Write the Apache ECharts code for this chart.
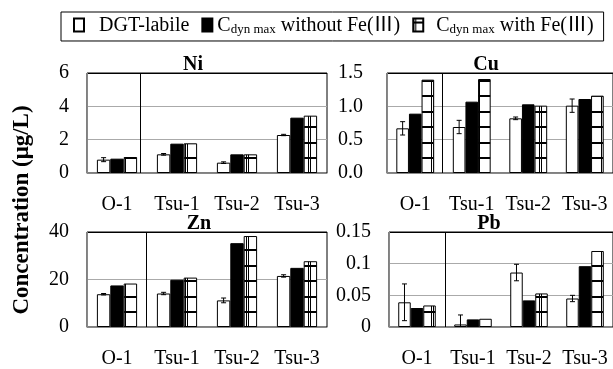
<!DOCTYPE html>
<html>
<head>
<meta charset="utf-8">
<script src="https://cdn.jsdelivr.net/npm/echarts@6/dist/echarts.min.js"></script>
<style>
  html, body { margin: 0; padding: 0; background: #fff; }
  #chart { width: 613px; height: 369px; }
</style>
</head>
<body>
<div id="chart"></div>
<script>
// sampling sites (x categories)
const sites = ['O-1', 'Tsu-1', 'Tsu-2', 'Tsu-3'];

// Ni
const niDgt = [0.80, 1.12, 0.62, 2.28];
const niDgtErr = [0.12, 0.05, 0.05, 0.04];
const niWithout = [0.86, 1.76, 1.12, 3.32];
const niWith = [0.96, 1.78, 1.12, 3.44];
// Cu
const cuDgt = [0.67, 0.69, 0.82, 1.01];
const cuDgtErr = [0.10, 0.10, 0.02, 0.10];
const cuWithout = [0.89, 1.07, 1.03, 1.11];
const cuWith = [1.40, 1.41, 1.01, 1.16];
// Zn
const znDgt = [13.8, 14.1, 11.2, 21.5];
const znDgtErr = [0.3, 0.5, 1.0, 0.5];
const znWithout = [17.5, 19.9, 35.3, 24.9];
const znWith = [18.3, 20.8, 38.3, 27.7];
// Pb
const pbDgt = [0.039, 0.004, 0.086, 0.045];
const pbDgtErr = [0.029, 0.015, 0.013, 0.005];
const pbWithout = [0.030, 0.012, 0.042, 0.096];
const pbWith = [0.034, 0.013, 0.053, 0.120];

// y ticks per panel
const niTicks = [0, 2, 4, 6];
const cuTicks = [0, 0.5, 1.0, 1.5];
const znTicks = [0, 20, 40];
const pbTicks = [0, 0.05, 0.1, 0.15];

const FONT = '"Liberation Serif", "Times New Roman", "Noto Sans CJK SC", serif';
const NAME_DGT = 'DGT-labile';
const NAME_WO = 'Cdyn max without Fe(Ⅲ)';
const NAME_W = 'Cdyn max with Fe(Ⅲ)';

// grid-like hatch used for "with Fe(III)"
function makeHatch() {
  const c = document.createElement('canvas');
  c.width = 77; c.height = 77;
  const g = c.getContext('2d');
  g.fillStyle = '#fff';
  g.fillRect(0, 0, 77, 77);
  g.fillStyle = '#000';
  [0, 15, 31, 46, 62].forEach(x => { g.fillRect(x, 0, 1, 77); g.fillRect(x + 2, 0, 1, 77); });
  [4, 19, 35, 50, 66].forEach(y => g.fillRect(0, y - 1, 77, 2));
  return c;
}
const hatch = { image: makeHatch(), repeat: 'repeat' };

const panels = [
  { name: 'Ni', dgt: niDgt, err: niDgtErr, wo: niWithout, w: niWith, ticks: niTicks,
    grid: { left: 87, top: 73, width: 240, height: 100 }, labelMargin: 18, fmt: v => String(v),
    titleX: 193, titleTop: 55, divider: 0.383 },
  { name: 'Cu', dgt: cuDgt, err: cuDgtErr, wo: cuWithout, w: cuWith, ticks: cuTicks,
    grid: { left: 387, top: 73, width: 228, height: 100 }, labelMargin: 24, fmt: v => v.toFixed(1),
    titleX: 486, titleTop: 55, divider: 0.47 },
  { name: 'Zn', dgt: znDgt, err: znDgtErr, wo: znWithout, w: znWith, ticks: znTicks,
    grid: { left: 87, top: 232, width: 240, height: 99 }, labelMargin: 18, fmt: v => String(v),
    titleX: 199, titleTop: 214, divider: 0.48 },
  { name: 'Pb', dgt: pbDgt, err: pbDgtErr, wo: pbWithout, w: pbWith, ticks: pbTicks,
    grid: { left: 389, top: 232, width: 228, height: 99 }, labelMargin: 18, fmt: v => String(+v.toFixed(2)),
    titleX: 489, titleTop: 214, divider: 0.5 }
];

const chart = echarts.init(document.getElementById('chart'), null, { renderer: 'canvas' });

const series = [];
panels.forEach((p, i) => {
  const common = { type: 'bar', xAxisIndex: i, yAxisIndex: i, barGap: '0%', barCategoryGap: '33%', animation: false };
  series.push(Object.assign({}, common, {
    name: NAME_DGT, data: p.dgt,
    itemStyle: { color: '#fff', borderColor: '#000', borderWidth: 1 }
  }));
  series.push(Object.assign({}, common, {
    name: NAME_WO, data: p.wo,
    itemStyle: { color: '#000', borderColor: '#000', borderWidth: 1 }
  }));
  series.push(Object.assign({}, common, {
    name: NAME_W, data: p.w,
    itemStyle: { color: hatch, borderColor: '#000', borderWidth: 1 }
  }));
  // error bars on the DGT-labile bars
  series.push({
    type: 'custom', xAxisIndex: i, yAxisIndex: i, silent: true, clip: true, animation: false, z: 5,
    data: p.dgt.map((v, k) => [k, v - p.err[k], v + p.err[k]]),
    renderItem(params, api) {
      const band = api.size([1, 0])[0];
      const groupW = band * 0.67;
      const barW = groupW / 3;
      const cx = api.coord([api.value(0), 0])[0] - groupW / 2 + barW / 2;
      const lo = api.coord([api.value(0), api.value(1)])[1];
      const hi = api.coord([api.value(0), api.value(2)])[1];
      const style = { stroke: '#000', lineWidth: 1 };
      return {
        type: 'group',
        children: [
          { type: 'line', shape: { x1: cx, y1: lo, x2: cx, y2: hi }, style },
          { type: 'line', shape: { x1: cx - 2.5, y1: lo, x2: cx + 2.5, y2: lo }, style },
          { type: 'line', shape: { x1: cx - 2.5, y1: hi, x2: cx + 2.5, y2: hi }, style }
        ]
      };
    }
  });
});

const option = {
  backgroundColor: '#fff',
  animation: false,
  textStyle: { fontFamily: FONT },
  title: panels.map(p => ({
    text: p.name, left: p.titleX, top: p.titleTop, textAlign: 'center', padding: 0,
    textStyle: { fontFamily: FONT, fontSize: 20, fontWeight: 'bold', color: '#000' }
  })),
  legend: {
    left: 61, top: 12,
    data: [NAME_DGT, NAME_WO, NAME_W],
    icon: 'rect',
    itemWidth: 10, itemHeight: 13, itemGap: 12,
    padding: [4, 10, 5, 12],
    borderColor: '#000', borderWidth: 1,
    selectedMode: false,
    formatter: name => {
      if (name === NAME_DGT) return '{p|DGT-labile}';
      if (name === NAME_WO) return '{a|C}{b|dyn max}{a| without Fe(Ⅲ)}';
      return '{q|C}{b|dyn max}{a| with Fe(Ⅲ)}';
    },
    textStyle: {
      color: '#000', fontFamily: FONT, fontSize: 20,
      rich: {
        a: { fontFamily: FONT, fontSize: 20, color: '#000', lineHeight: 22, verticalAlign: 'bottom' },
        p: { fontFamily: FONT, fontSize: 20, color: '#000', lineHeight: 22, verticalAlign: 'bottom', padding: [0, 0, 0, 10] },
        q: { fontFamily: FONT, fontSize: 20, color: '#000', lineHeight: 22, verticalAlign: 'bottom', padding: [0, 0, 0, 8] },
        b: { fontFamily: FONT, fontSize: 13, color: '#000', lineHeight: 4, verticalAlign: 'bottom' }
      }
    }
  },
  grid: panels.map(p => Object.assign({ show: true, borderColor: '#000', borderWidth: 1, backgroundColor: 'transparent' }, p.grid)),
  xAxis: panels.map((p, i) => ({
    type: 'category', gridIndex: i, data: sites,
    axisLine: { lineStyle: { color: '#888' } },
    axisTick: { alignWithLabel: true, length: 4, lineStyle: { color: '#888' } },
    axisLabel: { color: '#000', fontFamily: FONT, fontSize: 20, margin: 22, interval: 0 }
  })),
  yAxis: panels.map((p, i) => ({
    type: 'value', gridIndex: i,
    min: p.ticks[0], max: p.ticks[p.ticks.length - 1], interval: p.ticks[1] - p.ticks[0],
    axisLine: { show: true, lineStyle: { color: '#888' } },
    axisTick: { show: false },
    splitLine: { lineStyle: { color: p.ticks.map((t, k) => k === p.ticks.length - 1 ? '#000' : '#aaa') } },
    axisLabel: { color: '#000', fontFamily: FONT, fontSize: 20, margin: p.labelMargin, formatter: p.fmt }
  })),
  series: series
};

chart.setOption(option);

// y-axis title and the vertical dividers after O-1
const graphics = [{
  type: 'text', x: 22, y: 210, rotation: Math.PI / 2,
  style: {
    text: 'Concentration (μg/L)', fill: '#000', align: 'center', verticalAlign: 'middle',
    font: 'bold 23px ' + FONT
  }
}];
panels.forEach((p, i) => {
  const x0 = chart.convertToPixel({ xAxisIndex: i }, sites[0]);
  const x1 = chart.convertToPixel({ xAxisIndex: i }, sites[1]);
  const x = Math.round(x0 + (x1 - x0) * p.divider) + 0.5;
  const yTop = chart.convertToPixel({ yAxisIndex: i }, p.ticks[p.ticks.length - 1]);
  const yBot = chart.convertToPixel({ yAxisIndex: i }, p.ticks[0]);
  graphics.push({
    type: 'line', z: 10, silent: true,
    shape: { x1: x, y1: yTop, x2: x, y2: yBot },
    style: { stroke: '#000', lineWidth: 1 }
  });
});
chart.setOption({ graphic: graphics });
</script>
</body>
</html>
